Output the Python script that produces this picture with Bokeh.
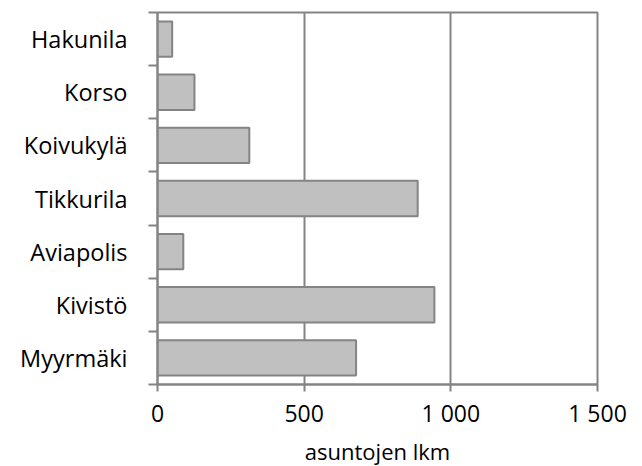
from bokeh.plotting import figure
from bokeh.models import FixedTicker, Range1d
from bokeh.embed import file_html
from bokeh.resources import INLINE

categories = ["Hakunila", "Korso", "Koivukylä", "Tikkurila", "Aviapolis", "Kivistö", "Myyrmäki"]
values = [50, 126, 313, 887, 88, 944, 677]
x_ticks = [0, 500, 1000, 1500]
x_tick_labels = ["0", "500", "1 000", "1 500"]
x_title = "asuntojen lkm"

n = len(categories)
ypos = [n - 1 - i for i in range(n)]

GRAY = "#848484"
FONT = "Open Sans"

p = figure(frame_width=440, frame_height=372, output_backend="svg", toolbar_location=None,
           x_range=Range1d(0, 1500), y_range=Range1d(-0.5, n - 0.5),
           min_border_left=157, min_border_right=37, min_border_top=12, min_border_bottom=70)

p.hbar(y=ypos, left=0, right=values, height=0.665,
       fill_color="#c0c0c0", line_color=GRAY, line_width=2)

p.outline_line_color = GRAY
p.outline_line_width = 2
p.ygrid.grid_line_color = None
p.xgrid.grid_line_color = GRAY
p.xgrid.grid_line_width = 2
p.xgrid.ticker = FixedTicker(ticks=x_ticks)

# y axis
p.yaxis.ticker = FixedTicker(ticks=ypos, minor_ticks=[i - 0.5 for i in range(n + 1)])
p.yaxis.major_label_overrides = {ypos[i]: categories[i] for i in range(n)}
p.yaxis.major_tick_line_color = None
p.yaxis.major_tick_out = 0
p.yaxis.major_tick_in = 0
p.yaxis.minor_tick_line_color = GRAY
p.yaxis.minor_tick_line_width = 2
p.yaxis.minor_tick_out = 9
p.yaxis.minor_tick_in = 0
p.yaxis.major_label_standoff = 21
p.yaxis.axis_line_color = GRAY
p.yaxis.axis_line_width = 2
p.yaxis.major_label_text_font = FONT
p.yaxis.major_label_text_font_size = "23.5px"
p.yaxis.major_label_text_color = "black"

# x axis
p.xaxis.ticker = FixedTicker(ticks=x_ticks)
p.xaxis.major_label_overrides = {x_ticks[i]: x_tick_labels[i] for i in range(len(x_ticks))}
p.xaxis.major_tick_line_color = GRAY
p.xaxis.major_tick_line_width = 2
p.xaxis.major_tick_out = 7
p.xaxis.major_tick_in = 0
p.xaxis.minor_tick_line_color = None
p.xaxis.axis_line_color = GRAY
p.xaxis.axis_line_width = 2
p.xaxis.major_label_standoff = 5
p.xaxis.major_label_text_font = FONT
p.xaxis.major_label_text_font_size = "23px"
p.xaxis.major_label_text_color = "black"
p.xaxis.axis_label = x_title
p.xaxis.axis_label_text_font = FONT
p.xaxis.axis_label_text_font_size = "22px"
p.xaxis.axis_label_text_font_style = "normal"
p.xaxis.axis_label_text_color = "black"
p.xaxis.axis_label_standoff = 4

open("out.html", "w").write(file_html(p, INLINE))
